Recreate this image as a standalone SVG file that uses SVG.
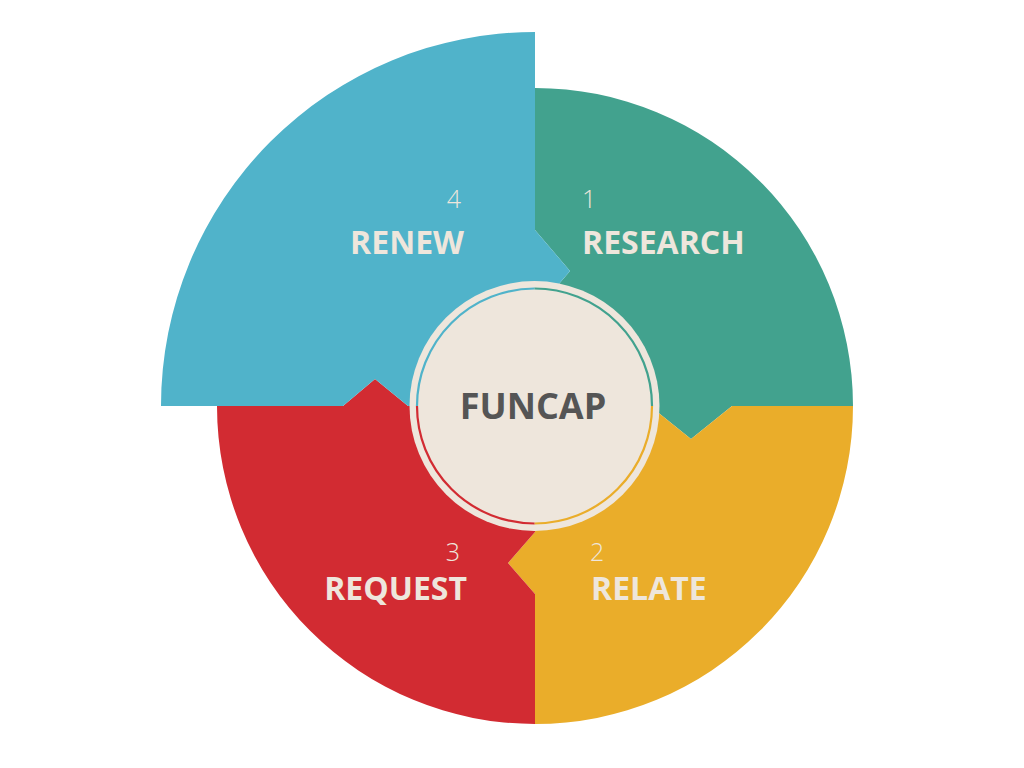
<svg xmlns="http://www.w3.org/2000/svg" width="1024" height="768" viewBox="0 0 1024 768">
<style>
.lbl{font-family:"Open Sans","Liberation Sans",sans-serif;font-weight:700;font-size:32px;fill:#EEE6DC}
.num{font-family:"Open Sans","Liberation Sans",sans-serif;font-weight:300;font-size:25px;fill:#EEE6DC}
.ring{fill:none;stroke-width:2.2}
</style>
<rect width="1024" height="768" fill="#FFFFFF"/>
<g id="research">
<path d="M535,406 L535,312 L570,271 L535,230 L535,88 A318,318 0 0 1 853,406 L732,406 L691,439 L650,406 Z" fill="#42A28E"/>
<text class="num" x="582" y="208">1</text>
<text class="lbl" x="582" y="254">RESEARCH</text>
</g>
<g id="relate">
<path d="M535,406 L650,406 L691,439 L732,406 L853,406 A318,318 0 0 1 535,724 L535,594 L508,563 L535,532 Z" fill="#EAAD2A"/>
<text class="num" x="590" y="561">2</text>
<text class="lbl" x="591" y="600">RELATE</text>
</g>
<g id="request">
<path d="M535,406 L535,532 L508,563 L535,594 L535,724 A318,318 0 0 1 217,406 L343,406 L375,379 L408,406 Z" fill="#D22B32"/>
<text class="num" x="460" y="561" text-anchor="end">3</text>
<text class="lbl" x="467" y="600" text-anchor="end">REQUEST</text>
</g>
<g id="renew">
<path d="M535,406 L408,406 L375,379 L343,406 L161,406 A374,374 0 0 1 535,32 L535,230 L570,271 L535,312 Z" fill="#50B3CA"/>
<text class="num" x="461" y="208" text-anchor="end">4</text>
<text class="lbl" x="464" y="254" text-anchor="end">RENEW</text>
</g>
<g id="funcap">
<circle cx="534.5" cy="406" r="125" fill="#EEE6DC"/>
<path class="ring" d="M417,406 A117.5,117.5 0 0 1 534.5,288.5" stroke="#50B3CA"/>
<path class="ring" d="M534.5,288.5 A117.5,117.5 0 0 1 652,406" stroke="#42A28E"/>
<path class="ring" d="M652,406 A117.5,117.5 0 0 1 534.5,523.5" stroke="#EAAD2A"/>
<path class="ring" d="M534.5,523.5 A117.5,117.5 0 0 1 417,406" stroke="#D22B32"/>
<text x="533" y="419" text-anchor="middle" font-family="'Open Sans','Liberation Sans',sans-serif" font-weight="700" font-size="36" fill="#555555">FUNCAP</text>
</g>
<g id="connectors"/>
</svg>
